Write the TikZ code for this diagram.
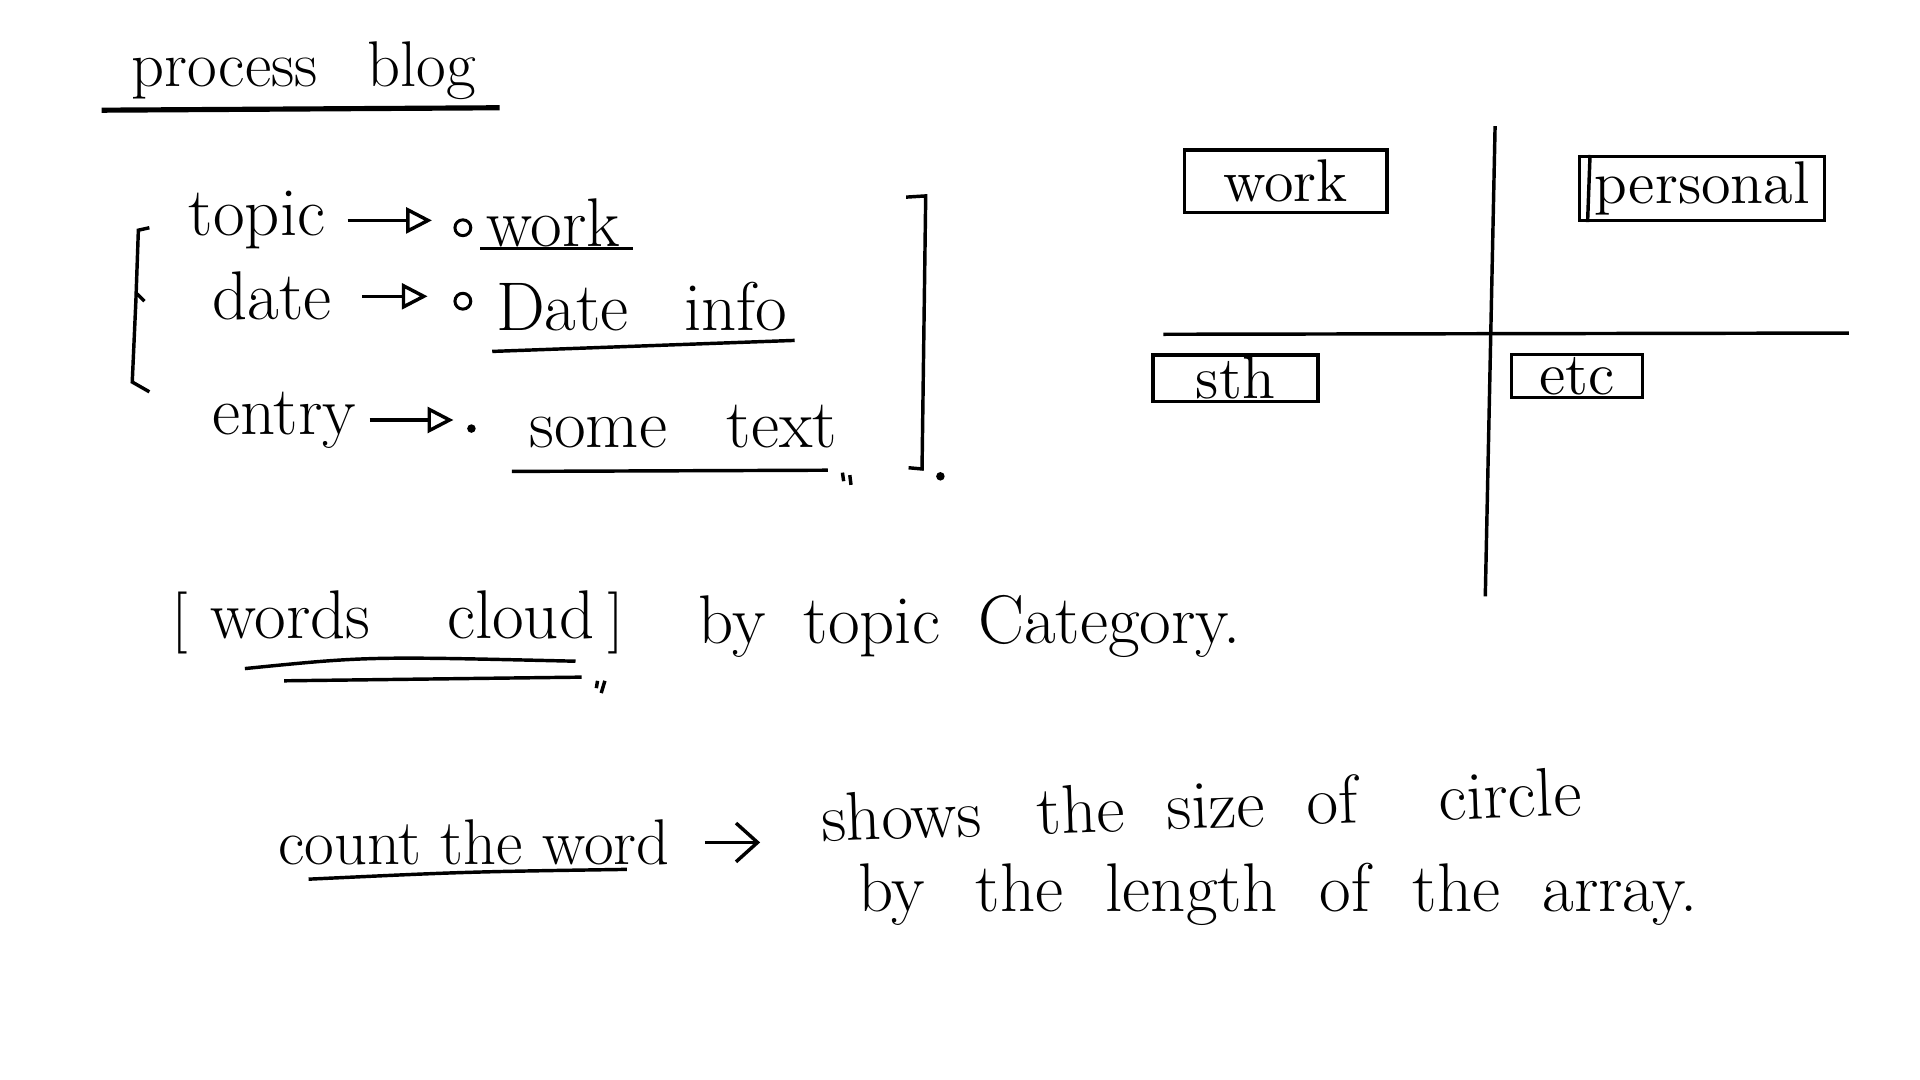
\documentclass[tikz,border=0pt]{standalone}
\usepackage{tikz}
\usetikzlibrary{arrows.meta,positioning}

\begin{document}
\begin{tikzpicture}[x=0.01cm, y=-0.01cm,
    hand/.style={inner sep=0pt, font=\fontsize{16}{19}\selectfont},
    title/.style={inner sep=0pt, font=\fontsize{15}{18}\selectfont},
    tag/.style={draw, line width=0.8pt, inner sep=0pt, font=\fontsize{14}{17}\selectfont},
    pen/.style={line width=0.8pt},
    arrow/.style={-{Triangle[open, length=6pt, width=6pt]}, line width=0.8pt},
    barb/.style={-{Straight Barb[length=5pt, width=9pt]}, line width=0.8pt},
    ring/.style={circle, draw, inner sep=1.3pt, line width=0.7pt},
    spot/.style={circle, fill, inner sep=0.7pt}
  ]
    \useasboundingbox (0,0) rectangle (1568,882);

    % title
    \node[title] (title) at (248,58) {process\hspace{7pt} blog};
    \draw[line width=1.2pt] (83,90) -- (408,88);

    % blog fields
    \node[hand] (topic) at (210,180) {topic};
    \node[ring] (r1)    at (378,186) {};
    \node[hand] (work)  at (452,182) {work};
    \node[hand] (date)  at (222,242) {date};
    \node[ring] (r2)    at (378,246) {};
    \node[hand] (dinfo) at (524,250) {Date\hspace{8pt} info};
    \node[hand] (entry) at (232,343) {entry};
    \node[spot] (r3)    at (385,350) {};
    \node[hand] (stext) at (558,348) {some\hspace{9pt} text};
    \node[spot] (rend)  at (768,389) {};

    \draw[arrow, shorten <=5pt, shorten >=5pt] (topic.east) -- (topic.east -| r1.west);
    \draw[arrow, shorten <=7pt, shorten >=6pt] (date.east) -- (date.east -| r2.west);
    \draw[arrow, shorten <=3pt, shorten >=3pt] (entry.east) -- (entry.east -| r3.west);
    \draw[pen] (392,203) -- (517,203);
    \draw[pen] (402,287) -- (649,278);
    \draw[pen] (418,385) -- (676,384);
    \draw[pen] (688,386) -- (689,393);
    \draw[pen] (694,388) -- (695,396);

    % brackets round the fields
    \draw[pen] (122,186) -- (113,188) -- (111,245) -- (108,312) -- (122,320);
    \draw[pen] (112,240) -- (118,246);
    \draw[pen] (740,161) -- (756,160) -- (753,383) -- (742,382);

    % quadrants
    \coordinate (vtop) at (1221,103);
    \coordinate (vbot) at (1213,487);
    \coordinate (hlft) at (950,273);
    \coordinate (hrgt) at (1510,272);
    \draw[pen] (vtop) -- (vbot);
    \draw[pen] (hlft) -- (hrgt);
    \node[tag, minimum width=1.65cm, minimum height=0.51cm] (qwork) at (1050,148) {work};
    \node[tag, minimum width=2.0cm, minimum height=0.52cm]  (qpers) at (1390,154) {personal};
    \node[tag, minimum width=1.35cm, minimum height=0.38cm] (qsth)  at (1009,309) {sth};
    \node[tag, minimum width=1.07cm, minimum height=0.35cm] (qetc)  at (1288,307) {etc};
    \draw[pen] ([xshift=0.08cm]qpers.south west) -- ([xshift=0.1cm]qpers.north west);

    % word cloud
    \node[hand] (cloud) at (325,508) {\Large[\normalsize\hspace{5pt}\fontsize{16}{19}\selectfont words\hspace{13pt} cloud\hspace{3pt}\Large]};
    \node[hand, anchor=west] (bytopic) at (570,512) {by\hspace{4pt} topic\hspace{4pt} Category.};
    \draw[pen] (200,546) .. controls (300,536) .. (470,540);
    \draw[pen] (232,556) -- (475,553);
    \draw[pen] (488,556) -- (487,562);
    \draw[pen] (494,556) -- (491,566);

    % counting
    \node[hand, font=\fontsize{15}{18}\selectfont] (count) at (387,688) {count the word};
    \draw[pen] (252,718) .. controls (380,712) .. (512,710);
    \node[hand, anchor=west, rotate=2] (shows) at (670,668) {shows\hspace{8pt} the\hspace{5pt} size\hspace{5pt} of\hspace{14pt} circle};
    \node[hand, anchor=west] (length) at (700,730) {by\hspace{7pt} the\hspace{5pt} length\hspace{5pt} of\hspace{5pt} the\hspace{5pt} array.};
    \draw[barb, shorten <=8pt, shorten >=14pt] (count.east) -- (count.east -| shows.west);
\end{tikzpicture}
\end{document}
